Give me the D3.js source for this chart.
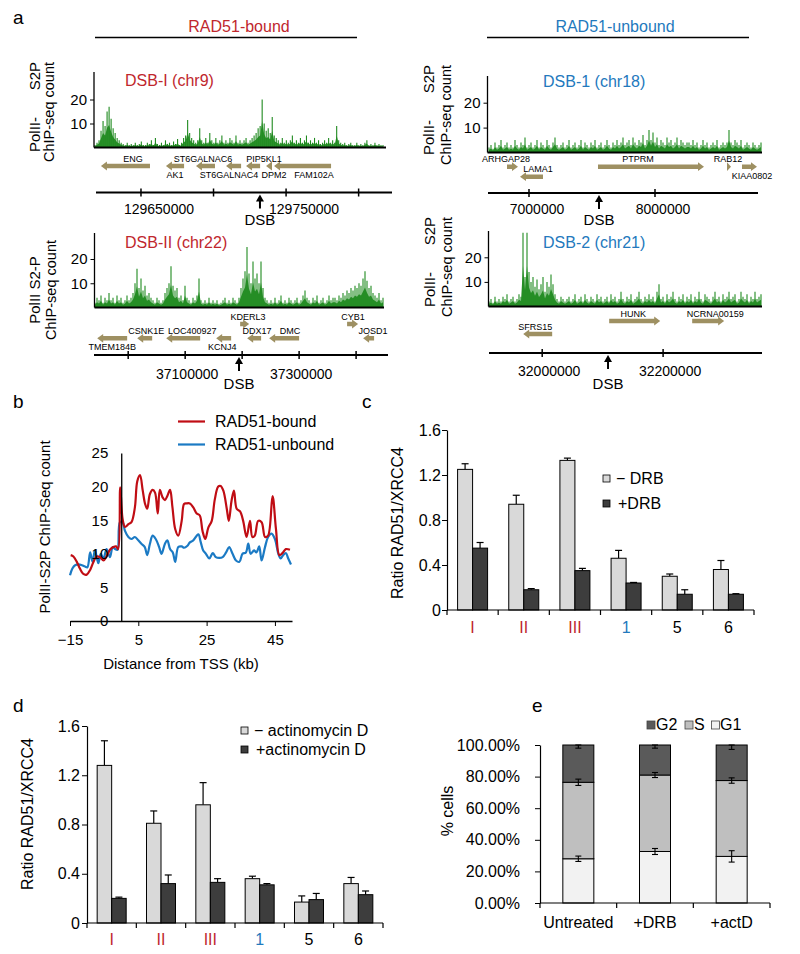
<!DOCTYPE html>
<html><head><meta charset="utf-8">
<script src="https://cdn.jsdelivr.net/npm/d3@7"></script>
<style>
body{margin:0;background:#fff}
svg{display:block}
text{font-family:"Liberation Sans",Arial,sans-serif}
</style>
</head><body>
<svg id="c" width="800" height="954"></svg>
<script>
// ---------------- DATA ----------------
// Panel a: Pol II S2P ChIP-seq tracks (bins across each window)
const trackDSB_I = [
 1,2,3,7,11,9,15,17,12,8,6,4,3,2,1.5,1,2,1,1.5,1,
 2,1,1.5,2.5,1,1,2,1.5,3,1,4,1.5,1,2,1,3,1.5,2,1,2.5,
 1.5,3.5,1,2,4,5,11.5,6,4,3,2,3,8,3,2,4,2,6,3,2,
 4,2,3,5,2,3,2,4,3,2,5,2,3,2,3,4,2,3,4,5,
 6,8,9,20,10,7,8,6,12.7,5,4,3,2,4,2,3,2,3,5,2,
 3,2,4,2,3,5,2,3,2,4,2,3,1.5,2,3,2,4,2,3,2,
 9,3,2,1.5,2,1,1.5,2,1,1,2,1,1.5,1,2,3,1,1.5,1,2,
 1,1.5,1,1];
const trackDSB_1 = [
 2,3,1.5,4,2,3,5,2,3,4,2,3,2,5,3,2,4,3,6,2,
 3,4,2,3,5,2,4,3,2,5,3,2,4,6,3,2,3,4,2,3,
 5,2,3,4,2,3,5,2,4,3,2,4,3,5,2,3,4,2,3,5,
 3,2,4,3,5,3,4,6,3,4,5,3,6,4,3,5,4,7,3,5,
 9,5,8,4,6,3,5,4,3,6,4,5,3,4,6,3,5,4,3,4,
 4,3,5,3,4,2,3,5,3,4,2,3,4,3,5,2,3,4,3,4,
 9,4,3,5,4,3,5,2,3,4,3,2,4,3,2,3,4];
const trackDSB_II = [
 2,4,3,5,2,4,3,6,3,4,2,5,3,4,2,3,5,3,4,6,
 10,16,8,12,7,9,5,6,4,3,2,4,3,2,3,6,8,10,17,9,
 7,8,4,5,3,9,4,3,2,4,3,5,12,3,2,3,2,4,2,3,
 2,3,1.5,2,3,4,2,3,2,4,3,2,4,8,12,15,25,14,10,19,
 12,14,10,19,8,4,3,2,3,2,4,2,3,5,2,3,2,4,3,2,
 3,4,2,3,5,7,4,3,2,4,3,5,2,3,4,2,3,5,3,4,
 4,3,5,4,6,5,7,6,8,7,9,8,10,9,12,15,11,8,9,6,
 5,4,6,3,4];
const trackDSB_2 = [
 2,3,1.5,4,2,3,2,4,3,5,2,3,4,2,3,5,4,30,12,30,
 14,10,12,8,11,7,9,12,6,10,8,13,9,5,3,2,4,3,2,3,
 4,2,3,5,2,3,4,2,5,3,2,4,3,2,5,3,4,2,3,4,
 2,5,3,4,2,3,6,3,2,4,3,5,2,3,4,6,3,2,4,3,
 5,3,4,2,6,9,3,4,2,5,3,4,6,3,2,4,3,5,2,4,
 3,5,2,4,3,6,3,2,5,4,3,2,4,6,3,4,2,5,3,4,
 6,3,4,5,2,3,6,4,3,5,2,4,3,6,3,4,5];

// genomic windows (bp) and DSB sites
const windowDSB_I  = [129619000, 129823000];
const windowDSB_1  = [6674600, 8817500];
const windowDSB_II = [36940000, 37456000];
const windowDSB_2  = [31912000, 32363600];
const ticksDSB_I  = [129650000, 129700000, 129750000, 129800000];
const labelsDSB_I = [129650000, 129750000];
const ticksDSB_1  = [7000000, 8000000];
const labelsDSB_1 = [7000000, 8000000];
const ticksDSB_II = [37000000, 37100000, 37200000, 37300000, 37400000];
const labelsDSB_II= [37100000, 37300000];
const ticksDSB_2  = [32000000, 32200000];
const labelsDSB_2 = [32000000, 32200000];
const dsbSites = [129732000, 7555600, 37194500, 32108900];

const genesDSB_I = [
 {name:"ENG", start:129622400, end:129656200, strand:-1, labelAt:129644500, lane:0, side:"above"},
 {name:"AK1", start:129667200, end:129679700, strand:-1, labelAt:129673500, lane:0, side:"below"},
 {name:"ST6GALNAC6", start:129687900, end:129701000, strand:-1, labelAt:129692800, lane:0, side:"above"},
 {name:"ST6GALNAC4", start:129708600, end:129719000, strand:-1, labelAt:129710700, lane:0, side:"below"},
 {name:"PIP5KL1", start:129722400, end:129732100, strand:-1, labelAt:129734800, lane:0, side:"above"},
 {name:"DPM2", start:129736200, end:129740300, strand:-1, labelAt:129741700, lane:0, side:"below"},
 {name:"FAM102A", start:129741700, end:129781000, strand:-1, labelAt:129769300, lane:0, side:"below"}];
const genesDSB_1 = [
 {name:"ARHGAP28", start:6825400, end:6912700, strand:1, labelAt:6817500, lane:0, side:"above"},
 {name:"LAMA1", start:6928600, end:7111100, strand:-1, labelAt:7071400, lane:1, side:"above"},
 {name:"PTPRM", start:7547600, end:8388900, strand:1, labelAt:7865100, lane:0, side:"above"},
 {name:"RAB12", start:8571400, end:8603200, strand:1, labelAt:8579400, lane:0, side:"above"},
 {name:"KIAA0802", start:8690500, end:8809500, strand:1, labelAt:8769800, lane:0, side:"below"}];
const genesDSB_II = [
 {name:"KDERL3", start:37196500, end:37212300, strand:1, labelAt:37210500, lane:0, side:"above"},
 {name:"CYB1", start:37384200, end:37403500, strand:1, labelAt:37394700, lane:0, side:"above"},
 {name:"TMEM184B", start:36945600, end:36998200, strand:-1, labelAt:36971900, lane:1, side:"below"},
 {name:"CSNK1E", start:37015800, end:37042100, strand:-1, labelAt:37031600, lane:1, side:"above"},
 {name:"LOC400927", start:37066700, end:37126300, strand:-1, labelAt:37112300, lane:1, side:"above"},
 {name:"KCNJ4", start:37154400, end:37180700, strand:-1, labelAt:37164900, lane:1, side:"below"},
 {name:"DDX17", start:37208800, end:37233300, strand:-1, labelAt:37226300, lane:1, side:"above"},
 {name:"DMC", start:37247400, end:37300000, strand:-1, labelAt:37284200, lane:1, side:"above"},
 {name:"JOSD1", start:37412300, end:37431600, strand:-1, labelAt:37429800, lane:1, side:"above"}];
const genesDSB_2 = [
 {name:"SFRS15", start:31968600, end:32016500, strand:-1, labelAt:31988400, lane:1, side:"above"},
 {name:"HUNK", start:32110800, end:32195200, strand:1, labelAt:32150500, lane:0, side:"above"},
 {name:"NCRNA00159", start:32248100, end:32301000, strand:1, labelAt:32286200, lane:0, side:"above"}];

// Panel b: metagene profile
const boundKb = [-14.8,-14,-13,-12.1,-11.1,-10.1,-9.1,-8.2,-7.2,-6.2,-5.2,-4.3,-3.3,-2.3,-1.5,-0.9,-0.3,0.4,1.1,2.1,3,4,4.7,5.5,6.3,7,7.6,8.4,9.2,9.9,10.7,11.3,12.1,12.8,13.5,14.3,15,15.8,16.7,17.7,18.4,19.1,20.1,21.1,22.1,23,23.8,24.6,25.5,26.5,27.4,28.4,29.1,29.9,30.9,31.5,32.3,33,33.8,34.8,35.7,36.7,37.7,38.4,39.1,40.1,41.1,42.1,43,44.3,45.3,46.3,47.2,48.2,49.4];
const boundVal = [9.8,9.6,8.8,7.8,7.0,6.9,7.6,8.7,9.6,9.5,9.0,9.6,10.6,11.0,11.1,10.7,19.9,15.2,14.0,14.4,14.7,16.9,20.8,21.7,19.4,17.4,16.7,18.9,19.5,19.1,16.0,19.5,18.4,18.0,18.6,19.5,16.9,13.7,12.7,14.9,17.4,17.5,17.5,16.9,16.0,15.7,13.4,12.2,13.9,14.9,18.1,20.0,20.1,19.4,16.7,14.9,17.9,19.4,16.7,16.3,14.9,12.5,14.9,12.5,12.7,14.9,14.7,12.5,12.7,18.6,13.7,9.8,10.1,10.7,10.6];
const unboundKb = [-15,-14.3,-13.5,-12.1,-10.6,-9.9,-9.1,-8.4,-7.7,-6.7,-6,-5.2,-4.3,-3.3,-2.5,-1.8,-1.1,-0.4,0.4,1.1,2.1,3,4,5,5.9,6.9,7.6,8.4,9.2,10.1,11.1,11.8,12.8,13.5,14.3,15.1,15.8,16.7,17.7,18.4,19.4,20.1,21.1,22.1,22.6,23.3,24,24.8,25.8,26.8,27.7,28.7,29.7,30.7,31.6,32.6,33.6,34.6,35.5,36.5,37.2,37.9,38.9,39.6,40.4,41.1,42.1,43,44,45,46,46.7,47.4,48.2,48.9,49.7];
const unboundVal = [6.8,7.8,8.3,8.4,8.1,8.0,10.2,8.8,10.5,8.6,10.0,9.3,10.7,9.5,11.0,10.7,10.6,14.7,14.7,13.4,12.5,12.2,12.5,12.0,11.5,11.0,9.8,11.5,12.7,12.2,11.0,10.0,11.5,12.0,10.7,10.2,8.8,11.0,11.1,10.9,11.2,11.7,12.0,12.7,12.9,11.7,10.5,10.0,9.3,10.1,9.5,9.4,9.5,10.2,11.0,10.0,9.0,8.8,10.0,10.2,11.5,10.0,10.5,10.2,11.1,9.0,11.0,12.5,13.0,12.2,10.0,9.3,9.8,10.1,9.3,8.4];
const profileXTicks = [-15, 5, 25, 45];
const profileYTicks = [0, 5, 10, 15, 20, 25];

// Panels c, d: RAD51/XRCC4 ratios
const dsbCategories = ["I","II","III","1","5","6"];
const dsbGroups = ["bound","bound","bound","unbound","other","other"];
const drbMinus = [1.25,0.94,1.33,0.46,0.30,0.36];
const drbMinusErr = [0.05,0.08,0.02,0.07,0.02,0.08];
const drbPlus = [0.55,0.18,0.35,0.24,0.14,0.14];
const drbPlusErr = [0.05,0.01,0.02,0.005,0.04,0.005];
const actMinus = [1.28,0.81,0.96,0.36,0.17,0.32];
const actMinusErr = [0.20,0.10,0.18,0.02,0.05,0.05];
const actPlus = [0.20,0.32,0.33,0.31,0.19,0.23];
const actPlusErr = [0.01,0.07,0.03,0.01,0.05,0.03];
const ratioTicks = [0, 0.4, 0.8, 1.2, 1.6];

// Panel e: cell cycle
const conditions = ["Untreated","+DRB","+actD"];
const g1Frac = [0.280, 0.326, 0.295];
const sFrac  = [0.484, 0.484, 0.480];
const g2Frac = [0.236, 0.190, 0.225];
const g1Err = [0.017, 0.019, 0.036];
const sErr  = [0.020, 0.016, 0.017];
const g2Err = [0.010, 0.010, 0.014];
const pctTicks = [0, 0.2, 0.4, 0.6, 0.8, 1.0];

// ---------------- DRAWING ----------------
const FONT = '"Liberation Sans", Arial, sans-serif';
const RED = "#c0272d", BLUE = "#2379bd", LINE_RED = "#c00d14", LINE_BLUE = "#1b7ac4";
const GENE = "#9e9062";
const svg = d3.select("#c");

function txt(x, y, s, o = {}) {
  return svg.append("text").attr("x", x).attr("y", y)
    .attr("font-size", o.size || 15).attr("fill", o.fill || "#000")
    .attr("text-anchor", o.anchor || "start")
    .attr("font-family", o.family || FONT).text(s);
}
function rot(x, y, s, o = {}) {
  return svg.append("text").attr("transform", `translate(${x},${y}) rotate(-90)`)
    .attr("font-size", o.size || 15).attr("fill", o.fill || "#000")
    .attr("text-anchor", o.anchor || "middle").attr("font-family", FONT).text(s);
}
function line(x1, y1, x2, y2, w = 1, c = "#000") {
  svg.append("line").attr("x1", x1).attr("y1", y1).attr("x2", x2).attr("y2", y2)
    .attr("stroke", c).attr("stroke-width", w);
}
function styleAxis(g, size) {
  g.selectAll("text").attr("font-size", size).attr("font-family", FONT).attr("fill", "#000");
  g.selectAll("line,path").attr("stroke", "#000");
}

// panel letters
const LFONT = '"Open Sans", "Liberation Sans", sans-serif';
txt(13, 24, "a", {size: 19, family: LFONT});
txt(13, 408, "b", {size: 19, family: LFONT});
txt(362, 408, "c", {size: 19, family: LFONT});
txt(13, 712, "d", {size: 19, family: LFONT});
txt(532, 712, "e", {size: 19, family: LFONT});

// headers
txt(239, 32, "RAD51-bound", {size: 16, fill: RED, anchor: "middle"});
line(95, 37.5, 357, 37.5, 1.5);
txt(615, 32, "RAD51-unbound", {size: 16, fill: BLUE, anchor: "middle"});
line(487, 37.5, 749, 37.5, 1.5);

function geneArrow(x0, x1, y, strand) {
  const h = 2.3, H = 4.4, L = Math.min(6, x1 - x0);
  if (strand > 0) {
    const xb = x1 - L;
    return `M${x0},${y-h}L${xb},${y-h}L${xb},${y-H}L${x1},${y}L${xb},${y+H}L${xb},${y+h}L${x0},${y+h}Z`;
  }
  const xb = x0 + L;
  return `M${x1},${y-h}L${xb},${y-h}L${xb},${y-H}L${x0},${y}L${xb},${y+H}L${xb},${y+h}L${x1},${y+h}Z`;
}

function drawLocus(p) {
  // ChIP track
  const xt = d3.scaleLinear().domain([0, p.vals.length - 1]).range([p.x0, p.x1]);
  const yt = d3.scaleLinear().domain([0, 20]).range([p.y0, p.y20]);
  const vmax = yt.invert(p.top);
  const area = d3.area().x((d, i) => xt(i)).y0(p.y0).y1(d => yt(Math.min(d, vmax) * 0.55));
  svg.append("path").datum(p.vals).attr("d", area)
    .attr("fill", "#2e922e").attr("stroke", "none");
  svg.append("g").selectAll("line").data(p.vals).join("line")
    .attr("x1", (d, i) => xt(i)).attr("x2", (d, i) => xt(i))
    .attr("y1", p.y0).attr("y2", d => yt(Math.min(d, vmax)))
    .attr("stroke", "#1f8a1f").attr("stroke-width", 1.1);
  const ay = svg.append("g").attr("transform", `translate(${p.axisX},0)`)
    .call(d3.axisLeft(yt).tickValues([10, 20]).tickSize(4).tickPadding(3));
  ay.select(".domain").remove();
  styleAxis(ay, 15);
  line(p.axisX, p.top, p.axisX, p.y0, 1.3);
  line(p.axisX, p.y0, p.baseEnd, p.y0, 1.8);
  txt(p.titleX, p.titleY, p.title, {size: 16, fill: p.color});
  // y title
  if (p.split) {
    rot(p.l1x, p.yTop, "S2P", {anchor: "end", size: 15});
    rot(p.l1x, p.yTop + 90, "PolII-", {anchor: "start", size: 15});
    rot(p.l2x, p.yTop, "ChIP-seq count", {anchor: "end", size: 14.5});
  } else {
    rot(p.l1x, p.yMid, p.line1, {size: 15});
    rot(p.l2x, p.yMid, "ChIP-seq count", {size: 14.5});
  }
  // genes
  const xg = d3.scaleLinear().domain(p.window).range([p.gx0, p.gx1]);
  p.genes.forEach(g => {
    const y = p.lanes[g.lane];
    svg.append("path").attr("d", geneArrow(xg(g.start), xg(g.end), y, g.strand)).attr("fill", GENE);
    txt(xg(g.labelAt), y + (g.side === "above" ? -4.5 : 12), g.name, {size: 9, anchor: "middle"});
  });
  // genomic axis
  line(p.gx0, p.axisY, p.gx1, p.axisY, 1.8);
  p.ticks.forEach(t => line(xg(t), p.axisY - 4, xg(t), p.axisY + 4, 1.5));
  p.labels.forEach(t => txt(xg(t) + p.labelDx, p.labelBase, String(t), {size: 14, anchor: "middle"}));
  // DSB arrow
  const dx = xg(p.dsb);
  line(dx, p.axisY + 7, dx, p.axisY + 16, 2);
  svg.append("path").attr("d", `M${dx},${p.axisY + 2}L${dx - 4},${p.axisY + 9}L${dx + 4},${p.axisY + 9}Z`).attr("fill", "#000");
  txt(dx, p.dsbBase, "DSB", {size: 15, anchor: "middle"});
}

drawLocus({vals: trackDSB_I, x0: 95, x1: 383, y0: 147.5, y20: 99.5, top: 72, axisX: 94, baseEnd: 386,
  title: "DSB-I (chr9)", titleX: 125, titleY: 86, color: RED,
  split: true, l1x: 39.5, l2x: 53.5, yTop: 62,
  window: windowDSB_I, gx0: 96, gx1: 392, genes: genesDSB_I, lanes: [166],
  axisY: 192.5, ticks: ticksDSB_I, labels: labelsDSB_I, labelDx: 18, labelBase: 214,
  dsb: dsbSites[0], dsbBase: 225});
drawLocus({vals: trackDSB_1, x0: 489, x1: 761, y0: 152.5, y20: 102.7, top: 76, axisX: 487.5, baseEnd: 762,
  title: "DSB-1 (chr18)", titleX: 543, titleY: 87, color: BLUE,
  split: true, l1x: 433.5, l2x: 451, yTop: 65,
  window: windowDSB_1, gx0: 488, gx1: 758, genes: genesDSB_1, lanes: [166.7, 176.7],
  axisY: 193, ticks: ticksDSB_1, labels: labelsDSB_1, labelDx: 8, labelBase: 214,
  dsb: dsbSites[1], dsbBase: 225});
drawLocus({vals: trackDSB_II, x0: 95, x1: 383, y0: 307.5, y20: 259, top: 233, axisX: 94.5, baseEnd: 384,
  title: "DSB-II (chr22)", titleX: 125, titleY: 248, color: RED,
  split: false, line1: "PolII S2-P", l1x: 39.5, l2x: 56, yMid: 290,
  window: windowDSB_II, gx0: 94, gx1: 388, genes: genesDSB_II, lanes: [324, 338.3],
  axisY: 355, ticks: ticksDSB_II, labels: labelsDSB_II, labelDx: 2, labelBase: 378.5,
  dsb: dsbSites[2], dsbBase: 389});
drawLocus({vals: trackDSB_2, x0: 489, x1: 761, y0: 306.5, y20: 257.3, top: 231, axisX: 488.5, baseEnd: 762,
  title: "DSB-2 (chr21)", titleX: 543, titleY: 248, color: BLUE,
  split: true, l1x: 434.5, l2x: 451.5, yTop: 217,
  window: windowDSB_2, gx0: 489, gx1: 762, genes: genesDSB_2, lanes: [321, 334],
  axisY: 353, ticks: ticksDSB_2, labels: labelsDSB_2, labelDx: 7, labelBase: 376,
  dsb: dsbSites[3], dsbBase: 389});

// ---------- Panel b ----------
(function () {
  const x = d3.scaleLinear().domain([-15, 50]).range([70, 292]);
  const y = d3.scaleLinear().domain([0, 25]).range([621, 453]);
  const ln = d3.line().x(d => x(d[0])).y(d => y(d[1])).curve(d3.curveCatmullRom.alpha(0.5));
  svg.append("path").attr("d", ln(unboundKb.map((k, i) => [k, unboundVal[i]])))
    .attr("fill", "none").attr("stroke", LINE_BLUE).attr("stroke-width", 2.2);
  svg.append("path").attr("d", ln(boundKb.map((k, i) => [k, boundVal[i]])))
    .attr("fill", "none").attr("stroke", LINE_RED).attr("stroke-width", 2.2);
  const gx = svg.append("g").attr("transform", "translate(0,621)")
    .call(d3.axisBottom(x).tickValues(profileXTicks).tickSize(5).tickSizeOuter(0).tickPadding(8));
  styleAxis(gx, 15);
  gx.select(".domain").attr("stroke-width", 1.3);
  const gy = svg.append("g").attr("transform", `translate(${x(0)},0)`)
    .call(d3.axisLeft(y).tickValues(profileYTicks).tickSize(0).tickPadding(13).tickSizeOuter(0));
  styleAxis(gy, 15);
  gy.select(".domain").attr("stroke-width", 1.3);
  txt(181, 669, "Distance from TSS (kb)", {size: 15, anchor: "middle"});
  rot(50, 527, "PolII-S2P ChIP-Seq count", {size: 15});
  line(178, 421.5, 205, 421.5, 2.2, LINE_RED);
  txt(215, 427, "RAD51-bound", {size: 16});
  line(178, 444.5, 205, 444.5, 2.2, LINE_BLUE);
  txt(215, 450, "RAD51-unbound", {size: 16});
})();

// ---------- Panels c, d ----------
function catColor(i) {
  return dsbGroups[i] === "bound" ? RED : dsbGroups[i] === "unbound" ? BLUE : "#000";
}
function drawRatio(o) {
  const x = d3.scaleBand().domain(dsbCategories).range([o.x0, o.x1]).padding(0);
  const y = d3.scaleLinear().domain([0, 1.6]).range([o.y0, o.y1]);
  const bw = o.bw;
  const series = [
    {v: o.minus, e: o.minusErr, fill: "#d9d9d9", off: -bw},
    {v: o.plus, e: o.plusErr, fill: "#3d3d3d", off: 0}];
  series.forEach(s => {
    dsbCategories.forEach((c, i) => {
      const cx = x(c) + x.bandwidth() / 2 + s.off;
      const xm = cx + bw / 2;
      line(xm, y(s.v[i]), xm, y(s.v[i] + s.e[i]), 1.2);
      line(xm - 3.5, y(s.v[i] + s.e[i]), xm + 3.5, y(s.v[i] + s.e[i]), 1.2);
      svg.append("rect").attr("x", cx).attr("width", bw)
        .attr("y", y(s.v[i])).attr("height", o.y0 - y(s.v[i]))
        .attr("fill", s.fill).attr("stroke", "#000").attr("stroke-width", 1);
    });
  });
  const gy = svg.append("g").attr("transform", `translate(${o.x0},0)`)
    .call(d3.axisLeft(y).tickValues(ratioTicks).tickSize(5).tickPadding(o.pad).tickSizeOuter(0)
      .tickFormat(d => d === 0 ? "0" : d3.format(".1f")(d)));
  styleAxis(gy, 16);
  gy.select(".domain").attr("stroke-width", 1.2);
  line(o.x0, o.y0, o.x1, o.y0, 1.2);
  const bounds = dsbCategories.map(c => x(c)).concat([o.x1]);
  bounds.forEach(b => line(b, o.y0, b, o.y0 + 5, 1.2));
  dsbCategories.forEach((c, i) => txt(x(c) + x.bandwidth() / 2, o.labBase, c, {size: 16, anchor: "middle", fill: catColor(i)}));
  rot(o.titleX, o.titleY, "Ratio RAD51/XRCC4", {size: 16});
  svg.append("rect").attr("x", o.lx).attr("y", o.ly1).attr("width", 7).attr("height", 7)
    .attr("fill", "#d9d9d9").attr("stroke", "#000").attr("stroke-width", 0.8);
  svg.append("rect").attr("x", o.lx).attr("y", o.ly2).attr("width", 7).attr("height", 7)
    .attr("fill", "#3d3d3d").attr("stroke", "#000").attr("stroke-width", 0.8);
  txt(o.lx + 13, o.ly1 + 9, o.leg1, {size: 16});
  txt(o.lx + 15, o.ly2 + 9, o.leg2, {size: 16});
}
drawRatio({x0: 447, x1: 754, y0: 610, y1: 430, bw: 15, pad: 1, labBase: 633,
  minus: drbMinus, minusErr: drbMinusErr, plus: drbPlus, plusErr: drbPlusErr,
  titleX: 403, titleY: 523, lx: 603, ly1: 475, ly2: 500, leg1: "− DRB", leg2: "+DRB"});
drawRatio({x0: 87, x1: 383, y0: 923, y1: 726, bw: 14.5, pad: 2, labBase: 945,
  minus: actMinus, minusErr: actMinusErr, plus: actPlus, plusErr: actPlusErr,
  titleX: 33, titleY: 814, lx: 241, ly1: 727, ly2: 746, leg1: "− actinomycin D", leg2: "+actinomycin D"});

// ---------- Panel e ----------
(function () {
  const x = d3.scaleBand().domain(conditions).range([540, 770]).padding(0);
  const y = d3.scaleLinear().domain([0, 1]).range([903, 745]);
  const bw = 31;
  const cols = {G1: "#f2f2f2", S: "#bfbfbf", G2: "#5a5a5a"};
  conditions.forEach((c, i) => {
    const bx = x(c) + x.bandwidth() / 2 - bw / 2;
    const segs = [["G1", 0, g1Frac[i]], ["S", g1Frac[i], g1Frac[i] + sFrac[i]], ["G2", g1Frac[i] + sFrac[i], g1Frac[i] + sFrac[i] + g2Frac[i]]];
    segs.forEach(s => svg.append("rect").attr("x", bx).attr("width", bw)
      .attr("y", y(s[2])).attr("height", y(s[1]) - y(s[2]))
      .attr("fill", cols[s[0]]).attr("stroke", "#000").attr("stroke-width", 1));
    const cx = bx + bw / 2;
    const errs = [[g1Frac[i], g1Err[i]], [g1Frac[i] + sFrac[i], sErr[i]], [g1Frac[i] + sFrac[i] + g2Frac[i] - g2Err[i], g2Err[i]]];
    errs.forEach(e => {
      line(cx, y(e[0] - e[1]), cx, y(e[0] + e[1]), 1.1);
      line(cx - 3, y(e[0] - e[1]), cx + 3, y(e[0] - e[1]), 1.1);
      line(cx - 3, y(e[0] + e[1]), cx + 3, y(e[0] + e[1]), 1.1);
    });
  });
  const gy = svg.append("g").attr("transform", "translate(540,0)")
    .call(d3.axisLeft(y).tickValues(pctTicks).tickSize(5).tickPadding(15).tickSizeOuter(0).tickFormat(d3.format(".2%")));
  styleAxis(gy, 16);
  gy.select(".domain").attr("stroke-width", 1.2);
  line(540, 903, 770, 903, 1.2);
  [540].concat(conditions.map(c => x(c) + x.bandwidth())).forEach(b => line(b, 903, b, 908, 1.2));
  conditions.forEach(c => txt(x(c) + x.bandwidth() / 2, 928, c, {size: 16, anchor: "middle"}));
  rot(453, 811, "% cells", {size: 16});
  const leg = [["G2", 647, 656], ["S", 685, 694], ["G1", 711.5, 720]];
  leg.forEach(l => {
    svg.append("rect").attr("x", l[1]).attr("y", 721).attr("width", 8).attr("height", 8)
      .attr("fill", cols[l[0]]).attr("stroke", "#444").attr("stroke-width", 0.8);
    txt(l[2], 729.5, l[0], {size: 16});
  });
})();
</script>
</body></html>
